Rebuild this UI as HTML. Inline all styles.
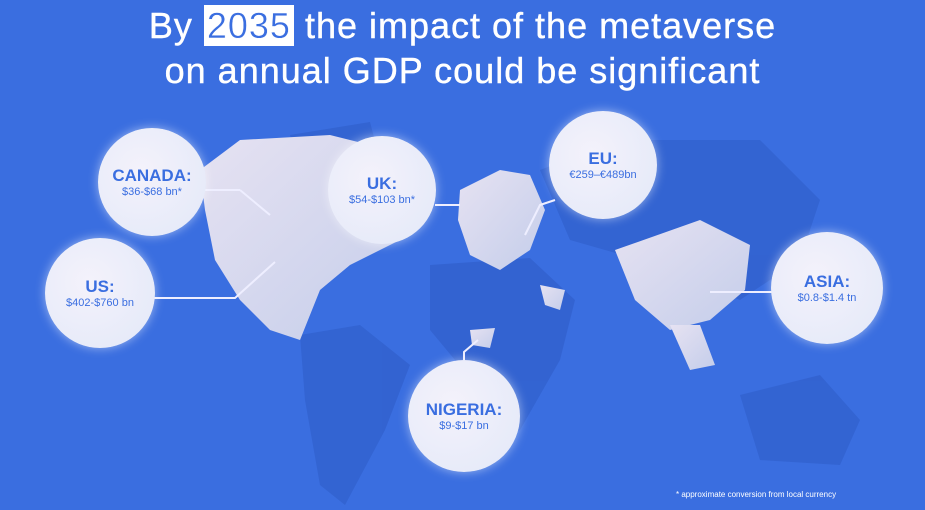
<!DOCTYPE html>
<html><head><style>
body{margin:0;width:925px;height:510px;overflow:hidden;background:#3a6ee0;font-family:"Liberation Sans",sans-serif;}
.t{position:absolute;left:0;width:925px;text-align:center;color:#fff;font-size:36px;letter-spacing:1px;-webkit-text-stroke:0.4px #fff}
.t b{font-weight:normal;background:#fff;color:#3a6ee0;padding:0 3px}
.c{position:absolute;border-radius:50%;background:radial-gradient(circle at 40% 40%,#f4f2fb,#e2e8f8);box-shadow:0 0 10px rgba(255,255,255,.5);text-align:center;color:#3a6ee0;display:flex;flex-direction:column;justify-content:center}
.c h{font-weight:bold;font-size:17px;display:block}
.c s{text-decoration:none;font-size:11px;display:block}
</style></head><body>
<svg width="925" height="510" style="position:absolute;left:0;top:0">
<defs><linearGradient id="g" x1="0" y1="0" x2="1" y2="1"><stop offset="0" stop-color="#e6e2f2"/><stop offset="1" stop-color="#c4cdea"/></linearGradient></defs>
<g fill="#2f5dc8" opacity=".6">
<path d="M290 135 L370 122 L380 160 L340 180 L300 165 Z"/>
<path d="M300 335 L360 325 L410 365 L385 430 L345 505 L320 485 L305 400 Z"/>
<path d="M430 265 L530 258 L575 300 L560 360 L520 430 L480 440 L455 360 L430 330 Z"/>
<path d="M540 170 L620 140 L760 140 L820 200 L800 260 L740 300 L640 260 L570 240 Z"/>
<path d="M740 395 L820 375 L860 420 L840 465 L760 460 Z"/>
</g>
<g fill="url(#g)">
<path d="M200 170 L240 140 L330 135 L390 150 L420 200 L400 240 L350 265 L320 290 L300 340 L270 330 L240 300 L215 260 L205 210 Z"/>
<path d="M460 190 L500 170 L530 175 L545 210 L530 250 L500 270 L470 255 L458 220 Z"/>
<path d="M615 250 L700 220 L750 245 L745 290 L710 320 L670 330 L635 300 Z"/>
<path d="M670 325 L700 325 L715 365 L690 370 Z"/>
<path d="M540 285 L565 290 L560 310 L545 305 Z"/>
<path d="M470 330 L495 328 L490 348 L472 345 Z"/>
</g>
<g stroke="#eef" stroke-width="2" fill="none">
<line x1="200" y1="190" x2="240" y2="190"/><line x1="240" y1="190" x2="270" y2="215"/>
<polyline points="152,298 235,298 275,262"/>
<polyline points="435,205 460,205"/>
<polyline points="555,200 540,205 525,235"/>
<polyline points="772,292 710,292"/>
<polyline points="464,360 464,352 478,340"/>
</g>
</svg>
<div class="t" style="top:5px">By <b>2035</b> the impact of the metaverse</div>
<div class="t" style="top:50px">on annual GDP could be significant</div>
<div class="c" style="left:98px;top:128px;width:108px;height:108px"><h>CANADA:</h><s>$36-$68 bn*</s></div>
<div class="c" style="left:328px;top:136px;width:108px;height:108px"><h>UK:</h><s>$54-$103 bn*</s></div>
<div class="c" style="left:45px;top:238px;width:110px;height:110px"><h>US:</h><s>$402-$760 bn</s></div>
<div class="c" style="left:549px;top:111px;width:108px;height:108px"><h>EU:</h><s>€259–€489bn</s></div>
<div class="c" style="left:771px;top:232px;width:112px;height:112px"><h>ASIA:</h><s>$0.8-$1.4 tn</s></div>
<div class="c" style="left:408px;top:360px;width:112px;height:112px"><h>NIGERIA:</h><s>$9-$17 bn</s></div>
<div style="position:absolute;left:676px;top:490px;font-size:8px;color:#fff">* approximate conversion from local currency</div>
</body></html>
